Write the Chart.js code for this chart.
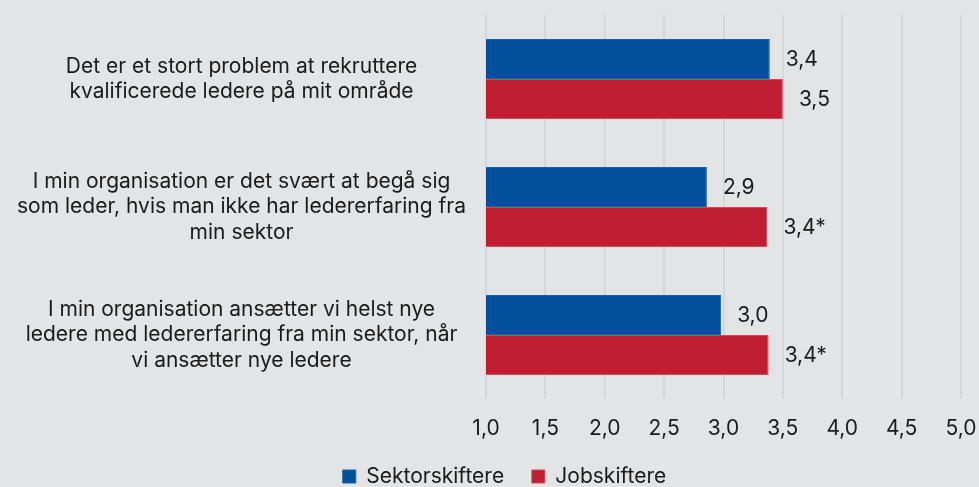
<!DOCTYPE html>
<html>
<head>
<meta charset="utf-8">
<script src="https://cdn.jsdelivr.net/npm/chart.js@4"></script>
<style>
  html, body { margin: 0; padding: 0; background: #e3e4e5; }
  #wrap { width: 979px; height: 487px; }
</style>
</head>
<body>
<div id="wrap"><canvas id="chart"></canvas></div>
<script>
// data
const categories = [
  ["Det er et stort problem at rekruttere", "kvalificerede ledere på mit område"],
  ["I min organisation er det svært at begå sig", "som leder, hvis man ikke har ledererfaring fra", "min sektor"],
  ["I min organisation ansætter vi helst nye", "ledere med ledererfaring fra min sektor, når", "vi ansætter nye ledere"]
];
const sektorValues = [3.39, 2.86, 2.98];
const jobValues = [3.5, 3.37, 3.38];
const sektorLabels = ["3,4", "2,9", "3,0"];
const jobLabels = ["3,5", "3,4*", "3,4*"];
const seriesNames = ["Sektorskiftere", "Jobskiftere"];

const textColor = "#1a1a1a";
const leftPad = 4;
const plotLeft = 486;
Chart.defaults.font.family = "Inter, 'Noto Sans', sans-serif";
Chart.defaults.font.size = 21;
Chart.defaults.color = textColor;

// simple value labels at the end of each bar
const barLabels = {
  id: "barLabels",
  afterDatasetsDraw(chart) {
    const ctx = chart.ctx;
    const texts = [sektorLabels, jobLabels];
    ctx.save();
    ctx.font = "21px Inter, 'Noto Sans', sans-serif";
    ctx.fillStyle = textColor;
    ctx.textAlign = "left";
    ctx.textBaseline = "middle";
    chart.data.datasets.forEach((ds, i) => {
      chart.getDatasetMeta(i).data.forEach((bar, j) => {
        ctx.fillText(texts[i][j], bar.x + 16, bar.y + 1);
      });
    });
    ctx.restore();
  },
  // legend in the original sits a bit right of the page centre
  afterLayout(chart) {
    chart.legend.left += 13;
    chart.legend.right += 13;
  }
};

new Chart(document.getElementById("chart"), {
  type: "bar",
  data: {
    labels: categories,
    datasets: [
      {
        label: seriesNames[0],
        data: sektorValues,
        backgroundColor: "#00509b",
        borderColor: "#1a5ea3",
        borderWidth: 1
      },
      {
        label: seriesNames[1],
        data: jobValues,
        backgroundColor: "#c01f32",
        borderColor: "#cf4a5a",
        borderWidth: 1
      }
    ]
  },
  options: {
    indexAxis: "y",
    responsive: true,
    maintainAspectRatio: false,
    animation: false,
    categoryPercentage: 0.625,
    barPercentage: 1.0,
    layout: { padding: { top: 15, right: 0, left: leftPad, bottom: -10 } },
    scales: {
      x: {
        min: 1,
        max: 5,
        ticks: {
          stepSize: 0.5,
          padding: 17,
          maxRotation: 0,
          callback: (v) => Number(v).toFixed(1).replace(".", ",")
        },
        grid: { color: "#d5d6d7", lineWidth: 2, drawTicks: false },
        border: { display: false },
        afterFit: (scale) => {
          scale.height = 57;
          scale.paddingLeft = 0;
          scale.paddingRight = 18;
        }
      },
      y: {
        ticks: { crossAlign: "center", padding: 20, lineHeight: 1.2 },
        grid: { display: false, drawTicks: false },
        border: { display: false },
        // the tall wrapped labels should not push the plot area down
        afterFit: (scale) => {
          scale.paddingTop = 0;
          scale.paddingBottom = 0;
          scale.width = plotLeft - leftPad;
        }
      }
    },
    plugins: {
      legend: {
        position: "bottom",
        labels: {
          boxWidth: 13,
          boxHeight: 13,
          padding: 10,
          generateLabels: (chart) => {
            const items = Chart.defaults.plugins.legend.labels.generateLabels(chart);
            items[0].text += "   ";
            return items;
          }
        }
      },
      tooltip: { enabled: false }
    }
  },
  plugins: [barLabels]
});
</script>
</body>
</html>
